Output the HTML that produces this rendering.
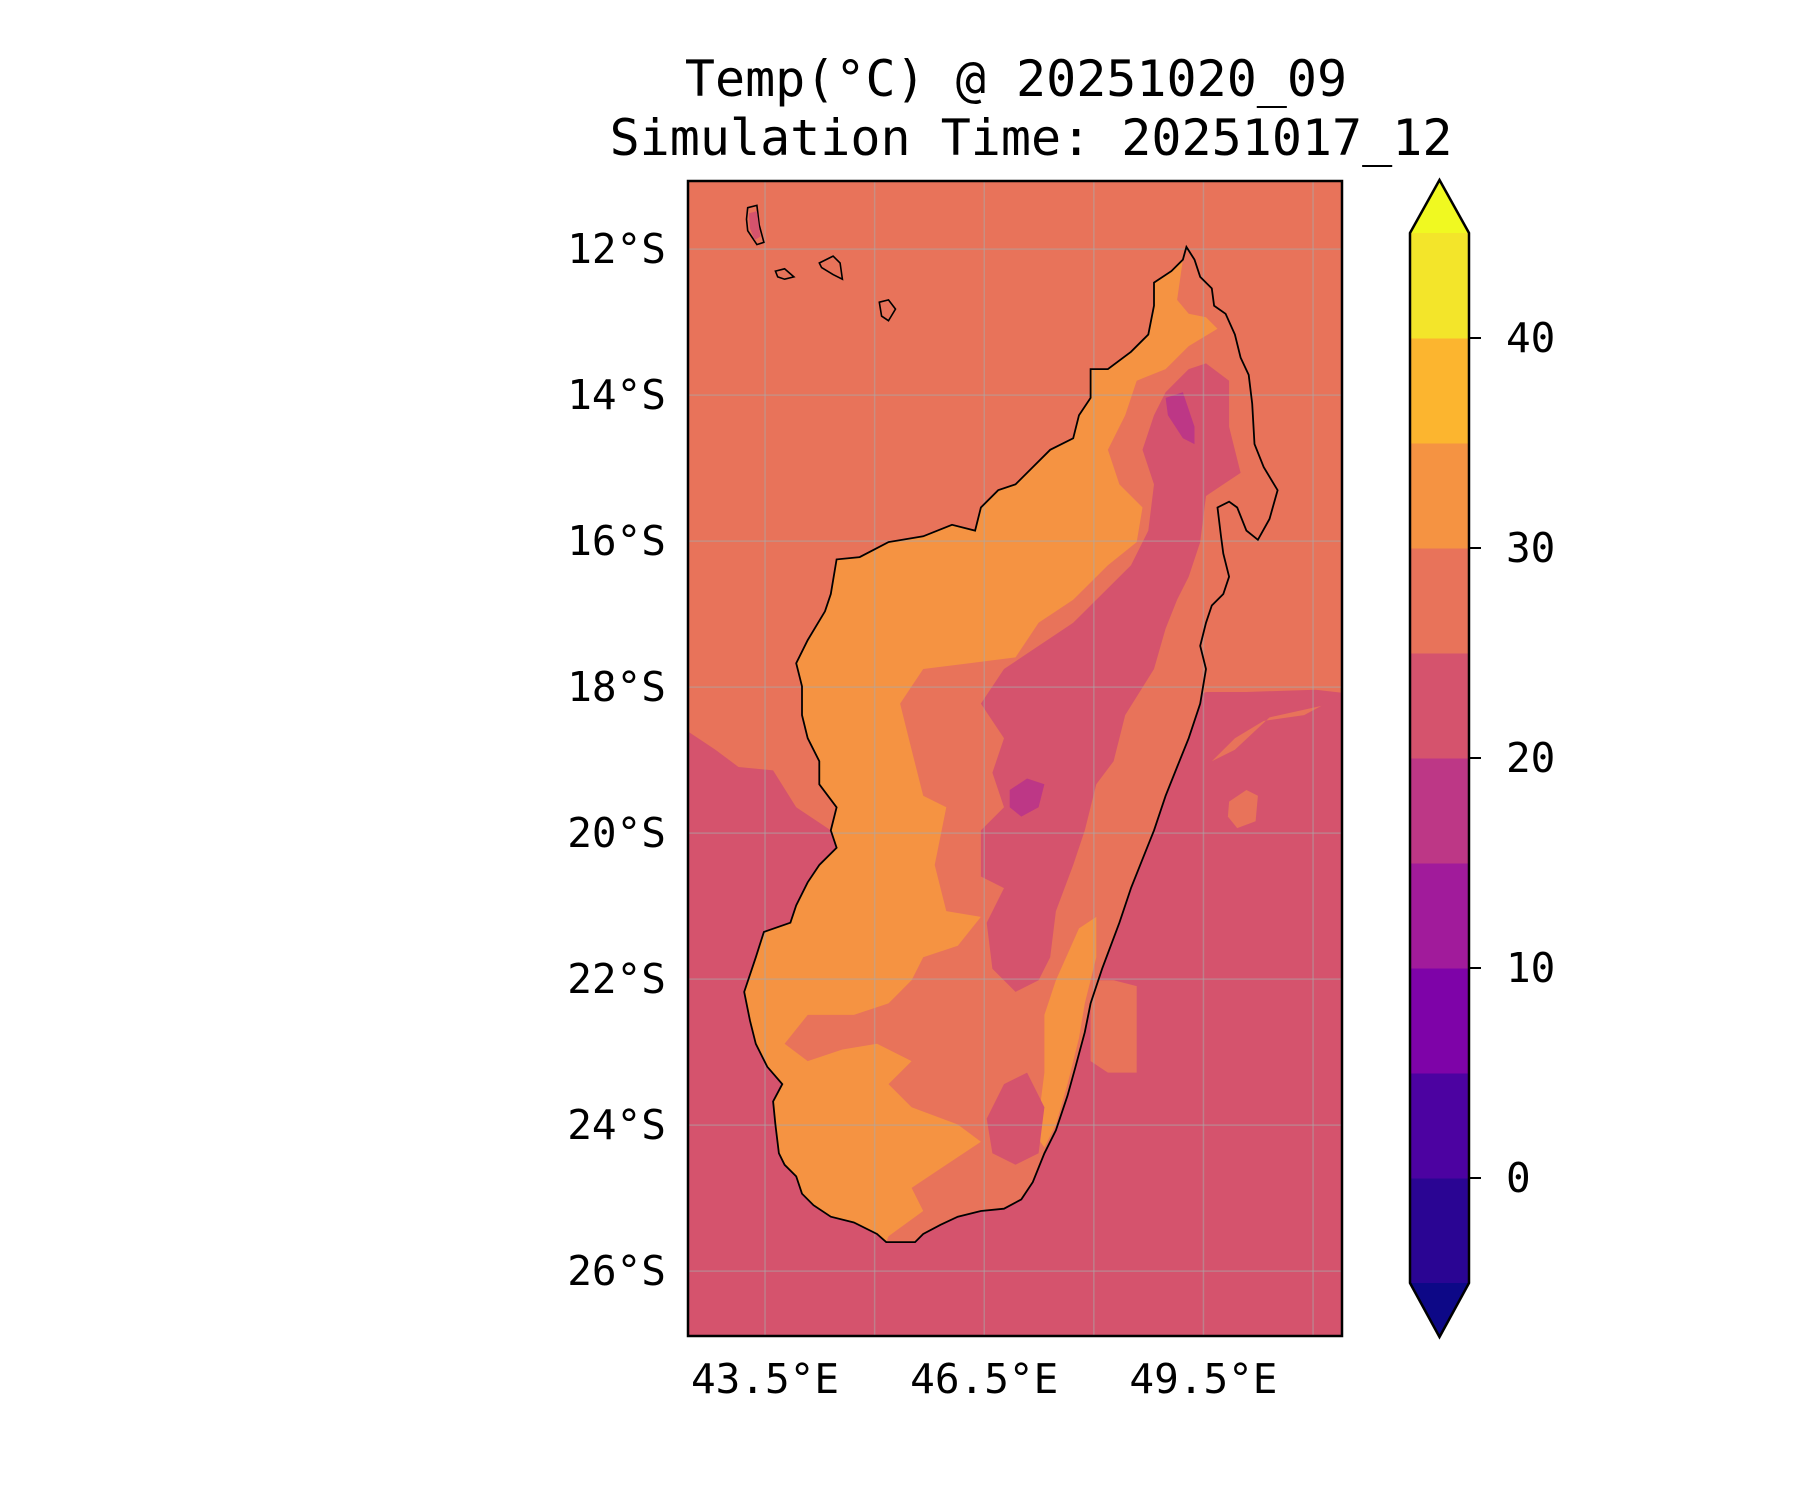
<!DOCTYPE html>
<html><head><meta charset="utf-8"><style>
html,body{margin:0;padding:0;background:#fff;}
svg{display:block;}
text{font-family:"DejaVu Sans Mono","Liberation Mono",monospace;fill:#000;}
</style></head><body>
<svg id="fig" width="1800" height="1500" viewBox="0 0 1800 1500">
<text x="1016" y="96" font-size="50" text-anchor="middle">Temp(°C) @ 20251020_09</text>
<text x="1031" y="155" font-size="50" text-anchor="middle">Simulation Time: 20251017_12</text>
<defs><clipPath id="mapclip"><rect x="688" y="181" width="654" height="1155"/></clipPath></defs>
<g id="map" clip-path="url(#mapclip)"></g>
<rect x="688" y="181" width="654" height="1155" fill="none" stroke="#000" stroke-width="2.5"/>
<g id="axes"></g>
<g id="cbar"></g>
</svg>
<script>
// ---- chart data ----
const lonTicks=[43.5,46.5,49.5];
const lonGrid=[43.5,45,46.5,48,49.5,51];
const latTicks=[12,14,16,18,20,22,24,26];
const cbarLevels=[-5,0,5,10,15,20,25,30,35,40,45];
const cbarColors=["#2a0593","#4c02a1","#7e03a8","#a11b9b","#bd3786","#d5536d","#e8735a","#f59342","#fcb52f","#f3e52a"];
const cbarUnder="#0d0887";
const cbarOver="#f0f921";
const cbarTicks=[0,10,20,30,40];
const lonMin=42.446,lonMax=51.396,latMin=11.066,latMax=26.888;

const svgNS="http://www.w3.org/2000/svg";
function X(lon){return 688+(lon-lonMin)/(lonMax-lonMin)*654;}
function Y(lat){return 181+(lat-latMin)/(latMax-latMin)*1155;}
function CY(v){return 1283-(v-cbarLevels[0])/(cbarLevels[cbarLevels.length-1]-cbarLevels[0])*1050;}
function toLL(a){const o=[];for(let i=0;i<a.length;i+=2){o.push([43.5+(a[i]-663)/63.3,12+(a[i+1]-216)/63.3]);}return o;}
function pts(a){return toLL(a).map(p=>X(p[0]).toFixed(1)+","+Y(p[1]).toFixed(1)).join(" ");}
function el(tag,attrs,parent){const e=document.createElementNS(svgNS,tag);for(const k in attrs)e.setAttribute(k,attrs[k]);parent.appendChild(e);return e;}

const coast=[1028,214,1035,225,1040,240,1050,250,1052,265,1062,272,1070,290,1075,310,1082,325,1085,350,1087,385,1095,405,1107,425,1100,450,1090,468,1080,460,1072,440,1065,435,1055,440,1058,465,1060,480,1065,500,1060,515,1050,525,1045,540,1040,560,1045,580,1040,610,1030,640,1020,665,1010,690,1000,720,990,745,980,770,970,800,955,840,945,870,940,895,932,925,925,950,915,980,905,1000,895,1025,885,1040,870,1048,850,1050,830,1055,815,1062,800,1070,793,1077,768,1077,760,1070,740,1060,720,1055,705,1045,695,1035,690,1020,680,1010,675,1000,672,975,670,955,678,940,665,925,655,905,650,885,645,860,655,830,662,808,685,800,690,785,700,765,710,750,725,735,720,720,725,700,710,680,710,660,700,640,695,620,695,595,690,575,700,555,715,530,720,515,725,485,745,483,770,470,800,465,825,455,845,460,850,440,865,425,880,420,895,405,910,390,930,380,935,360,945,345,945,320,960,320,980,305,995,290,1000,265,1000,245,1015,235,1025,225];
const southSea=[590,630,620,650,640,665,670,668,690,700,720,720,760,700,900,650,1000,620,1045,600,1080,600,1140,598,1175,602,1175,1175,590,1175];
const seaPatch1=[1065,695,1080,685,1090,690,1088,712,1072,718,1064,708];
const seaPatch2=[1050,660,1070,640,1095,625,1130,620,1145,612,1100,622,1070,650];
const seaPatch3=[945,850,965,850,985,855,985,930,960,930,945,920];
const orange=[1000,265,1000,245,1015,235,1025,225,1020,260,1030,272,1045,275,1055,285,1030,300,1010,320,985,330,975,360,960,390,970,420,990,440,985,470,960,490,930,520,900,540,880,570,840,575,800,580,780,610,790,650,800,690,820,700,810,750,820,790,850,795,830,820,800,830,790,850,770,870,740,880,700,880,680,905,700,920,730,910,760,905,790,920,770,940,790,960,830,975,850,990,820,1010,790,1030,800,1050,770,1072,768,1077,760,1070,740,1060,720,1055,705,1045,695,1035,690,1020,680,1010,675,1000,672,975,670,955,678,940,665,925,655,905,650,885,645,860,655,830,662,808,685,800,690,785,700,765,710,750,725,735,720,720,725,700,710,680,710,660,700,640,695,620,695,595,690,575,700,555,715,530,720,515,725,485,745,483,770,470,800,465,825,455,845,460,850,440,865,425,880,420,895,405,910,390,930,380,935,360,945,345,945,320,960,320,980,305,995,290];
const orangeSE=[915,850,935,805,950,795,950,830,940,870,935,900,925,940,915,975,905,995,898,985,905,930,905,880];
const pink=[1045,315,1065,330,1065,370,1075,410,1060,420,1045,430,1040,470,1030,500,1020,520,1010,545,1000,580,975,620,965,660,950,680,940,720,930,750,915,790,910,830,900,850,880,860,860,840,855,800,870,770,850,760,850,720,870,700,860,670,870,640,850,610,870,580,900,560,930,540,960,510,980,490,995,460,1000,420,990,390,1000,360,1010,340,1030,320];
const pinkSouth=[870,940,890,930,905,960,900,1000,880,1010,860,1000,855,970];
const purple1=[1010,345,1025,340,1035,370,1035,385,1025,380,1012,360];
const purple2=[875,685,890,675,905,680,900,700,885,708,875,700];
const islands=[[648,180,656,178,658,195,662,210,656,212,648,200,647,190],[672,235,680,233,688,240,680,242,674,240],[710,228,722,222,728,228,730,242,722,238,712,232],[762,262,770,260,776,268,770,278,764,274]];

const map=document.getElementById('map');
let e;
e=el('rect',{x:680,y:170,width:680,height:1180,fill:cbarColors[6]},map);

e=el('polygon',{points:pts(southSea),fill:cbarColors[5]},map);

[seaPatch1,seaPatch2].forEach(p=>{const q=el('polygon',{points:pts(p),fill:cbarColors[6]},map);
});
e=el('polygon',{points:pts(coast),fill:cbarColors[6]},map);

e=el('polygon',{points:pts(orange),fill:cbarColors[7]},map);

e=el('polygon',{points:pts(orangeSE),fill:cbarColors[7]},map);

e=el('polygon',{points:pts(pink),fill:cbarColors[5]},map);

e=el('polygon',{points:pts(pinkSouth),fill:cbarColors[5]},map);

[purple1,purple2].forEach(p=>{const q=el('polygon',{points:pts(p),fill:cbarColors[4]},map);
});
e=el('polygon',{points:pts(seaPatch3),fill:cbarColors[6]},map);

lonGrid.forEach(l=>{const g=el('line',{x1:X(l),x2:X(l),y1:181,y2:1336,stroke:"#aaa","stroke-opacity":0.5,"stroke-width":1.5},map);

});
latTicks.forEach(l=>{const g=el('line',{x1:688,x2:1342,y1:Y(l),y2:Y(l),stroke:"#aaa","stroke-opacity":0.5,"stroke-width":1.5},map);

});
e=el('polygon',{points:pts(coast),fill:"none",stroke:"#000","stroke-width":1.8},map);


islands.forEach(p=>{const q=el('polygon',{points:pts(p),fill:"none",stroke:"#000","stroke-width":1.6},map);

});
e=el('polygon',{points:pts([649,185,656,183,659,205,654,208,650,198]),fill:cbarColors[5]},map);


const axes=document.getElementById('axes');
lonTicks.forEach(l=>{const t=el('text',{x:X(l),y:1393,"font-size":41,"text-anchor":"middle"},axes);t.textContent=l.toFixed(1)+"°E";

});
latTicks.forEach(l=>{const t=el('text',{x:666,y:Y(l)+14,"font-size":41,"text-anchor":"end"},axes);t.textContent=l+"°S";

});

const cb=document.getElementById('cbar');
const cx0=1410,cx1=1469,cxm=1439.5;
for(let i=0;i<cbarColors.length;i++){const r=el('rect',{x:cx0,y:CY(cbarLevels[i+1]),width:cx1-cx0,height:CY(cbarLevels[i])-CY(cbarLevels[i+1])+0.5,fill:cbarColors[i]},cb);

}
const ytop=CY(cbarLevels[cbarLevels.length-1]),ybot=CY(cbarLevels[0]);
e=el('polygon',{points:`${cx0},${ytop} ${cxm},180 ${cx1},${ytop}`,fill:cbarOver},cb);

e=el('polygon',{points:`${cx0},${ybot} ${cxm},1337 ${cx1},${ybot}`,fill:cbarUnder},cb);

e=el('polygon',{points:`${cx0},${ytop} ${cxm},180 ${cx1},${ytop} ${cx1},${ybot} ${cxm},1337 ${cx0},${ybot}`,fill:"none",stroke:"#000","stroke-width":2.5},cb);

cbarTicks.forEach(v=>{const l=el('line',{x1:cx1,x2:cx1+12,y1:CY(v),y2:CY(v),stroke:"#000","stroke-width":2},cb);

const t=el('text',{x:1506,y:CY(v)+14,"font-size":41},cb);t.textContent=v;

});
</script>
</body></html>
